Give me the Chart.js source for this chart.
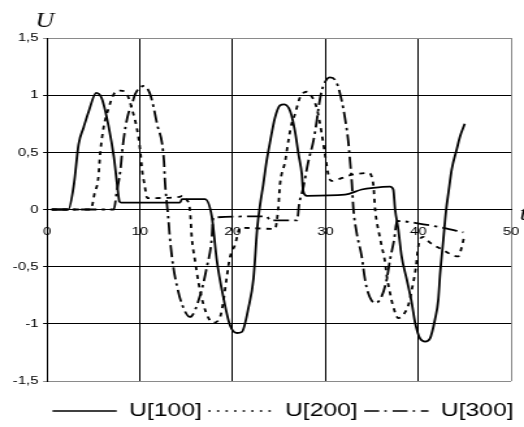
<!DOCTYPE html>
<html>
<head>
<meta charset="utf-8">
<script src="https://cdn.jsdelivr.net/npm/chart.js@4.4.1/dist/chart.umd.min.js"></script>
<style>
  html, body { margin: 0; padding: 0; background: #fff; overflow: hidden; }
  /* the plot is laid out on a 403px-wide canvas and widened to 524px */
  #frame { width: 403px; height: 431px; transform: scaleX(1.30025); transform-origin: 0 0; }
</style>
</head>
<body>
<div id="frame"><canvas id="chart"></canvas></div>
<script>
// U[100]
const t100 = [0.5, 2.3, 2.9, 3.4, 3.95, 4.5, 5.3, 5.9, 6.65, 7.2,
  7.55, 7.8, 8.0, 14.3, 14.55, 17.0, 17.75, 18.3, 18.95, 19.7,
  20.45, 21.0, 21.7, 22.25, 22.65, 22.95, 23.3, 23.65, 24.05, 24.55,
  25.1, 25.55, 26.2, 26.7, 27.1, 27.45, 27.6, 28.0, 32.1, 33.9,
  35.15, 36.95, 37.3, 37.5, 37.85, 38.2, 38.75, 39.3, 39.65, 40.2,
  40.75, 41.25, 41.8, 42.15, 42.35, 42.7, 43.0, 43.25, 43.6, 44.15,
  44.5, 45.0];
const u100 = [0, 0, 0.22, 0.57, 0.72, 0.86, 1.02, 0.97, 0.72, 0.46,
  0.22, 0.07, 0.06, 0.06, 0.09, 0.09, -0.06, -0.45, -0.75, -1.01,
  -1.08, -1.07, -0.86, -0.6, -0.16, 0.04, 0.22, 0.42, 0.6, 0.8,
  0.91, 0.92, 0.86, 0.69, 0.48, 0.31, 0.16, 0.12, 0.13, 0.175,
  0.19, 0.2, 0.175, 0, -0.18, -0.41, -0.61, -0.82, -0.99, -1.13,
  -1.155, -1.13, -0.96, -0.79, -0.56, -0.26, 0, 0.15, 0.35, 0.53,
  0.64, 0.75];

// U[200]
const t200 = [0.5, 4.7, 5.15, 5.5, 5.75, 6.1, 6.65, 7.2, 7.9, 8.6,
  9.15, 9.7, 10.05, 10.25, 10.5, 10.8, 14.3, 14.55, 15.0, 15.4,
  15.6, 15.95, 16.3, 16.85, 17.4, 17.9, 18.65, 19.0, 19.35, 19.7,
  20.25, 20.8, 24.55, 24.9, 25.1, 25.65, 26.0, 26.35, 26.7, 27.25,
  28.0, 28.5, 29.05, 29.6, 29.95, 30.3, 30.6, 32.65, 34.6, 35.15,
  35.35, 35.55, 35.8, 36.05, 36.4, 36.6, 36.95, 37.3, 37.85, 38.4,
  38.95, 39.3, 39.75, 39.95, 40.2, 40.55, 41.25, 42.35, 44.3, 44.7,
  44.95];
const u200 = [0, 0, 0.15, 0.26, 0.51, 0.72, 0.89, 1.01, 1.04, 1.01,
  0.88, 0.7, 0.51, 0.34, 0.22, 0.1, 0.11, 0.12, 0.09, -0.01,
  -0.25, -0.45, -0.63, -0.83, -0.95, -0.99, -0.94, -0.8, -0.6, -0.42,
  -0.31, -0.16, -0.17, 0, 0.22, 0.42, 0.6, 0.75, 0.83, 0.98,
  1.03, 0.99, 0.89, 0.66, 0.48, 0.31, 0.25, 0.3, 0.32, 0.22,
  0, -0.12, -0.22, -0.32, -0.45, -0.58, -0.73, -0.85, -0.95, -0.92,
  -0.83, -0.7, -0.5, -0.35, -0.26, -0.24, -0.29, -0.34, -0.41, -0.32,
  -0.23];

// U[300]
const t300 = [0.5, 7.2, 7.5, 7.9, 8.1, 8.45, 8.8, 9.15, 9.5, 10.4,
  11.1, 11.85, 12.6, 12.7, 12.95, 13.05, 13.25, 13.6, 14.0, 14.5,
  15.4, 16.5, 17.2, 17.75, 17.9, 23.65, 24.05, 26.95, 27.15, 27.6,
  28.15, 28.7, 29.05, 29.25, 29.6, 30.15, 30.5, 31.2, 31.75, 32.1,
  32.45, 32.65, 32.85, 33.0, 33.35, 33.9, 34.25, 34.6, 35.35, 36.05,
  36.6, 36.95, 37.4, 37.7, 40.55, 42.7, 44.85];
const u300 = [0, 0, 0.15, 0.34, 0.51, 0.72, 0.85, 0.92, 1.01, 1.08,
  1.01, 0.75, 0.42, 0.25, 0.02, -0.06, -0.26, -0.5, -0.67, -0.82,
  -0.94, -0.75, -0.51, -0.25, -0.07, -0.06, -0.095, -0.095, 0.04, 0.19,
  0.42, 0.6, 0.77, 0.89, 1.04, 1.14, 1.155, 1.11, 0.95, 0.8,
  0.6, 0.42, 0.22, 0.01, -0.2, -0.41, -0.61, -0.73, -0.82, -0.76,
  -0.61, -0.44, -0.26, -0.1, -0.13, -0.16, -0.2];

const seriesNames = ['U[100]', 'U[200]', 'U[300]'];
const xRange = [0, 50];
const xStep = 10;
const yRange = [-1.5, 1.5];
const yStep = 0.5;
const axisNames = ['t', 'U'];

const FONT = '"Liberation Sans", Arial, Helvetica, sans-serif';
const INK = '#000';
const FRAME = '#8a8a8a';

// curve dash patterns and the patterns used for the legend samples
const curveDash = [[], [4, 4.5], [12, 4, 2.5, 4]];
const legendDash = [[], [1.8, 4.8], [11.5, 4, 1.8, 4.5]];

const points = (ts, us) => ts.map((t, i) => ({ x: t, y: us[i] }));
const commaNumber = v => String(Math.round(v * 10) / 10).replace('.', ',');

// italic axis letters: U above the value axis, t at the right end of the time axis
const axisLetters = {
  id: 'axisLetters',
  afterDraw(chart) {
    const { ctx, chartArea, scales } = chart;
    const y0 = scales.y.getPixelForValue(0);
    ctx.save();
    ctx.fillStyle = INK;
    ctx.font = 'italic 20px "Liberation Serif", "Times New Roman", serif';
    ctx.textBaseline = 'alphabetic';
    ctx.textAlign = 'center';
    ctx.fillText(axisNames[1], chartArea.left - 1.8, 27);
    ctx.textAlign = 'left';
    ctx.fillText(axisNames[0], chartArea.right + 6.6, y0 + 10);
    ctx.restore();
  }
};

Chart.defaults.font.family = FONT;
Chart.defaults.color = INK;

const series = [[t100, u100], [t200, u200], [t300, u300]];

new Chart(document.getElementById('chart'), {
  type: 'line',
  data: {
    datasets: series.map(([ts, us], i) => ({
      label: seriesNames[i],
      data: points(ts, us),
      borderColor: INK,
      backgroundColor: INK,
      borderWidth: 1.8,
      borderDash: curveDash[i],
      pointRadius: 0,
      pointHoverRadius: 0,
      fill: false,
      cubicInterpolationMode: 'monotone'
    }))
  },
  options: {
    responsive: true,
    maintainAspectRatio: false,
    animation: false,
    events: [],
    layout: { padding: { left: 0, right: 3, top: 38, bottom: 0.5 } },
    scales: {
      x: {
        type: 'linear',
        position: { y: 0 },
        min: xRange[0],
        max: xRange[1],
        ticks: { stepSize: xStep, padding: 15, color: INK, font: { size: 11.5 }, maxRotation: 0 },
        grid: {
          color: c => (c.tick && c.tick.value === xRange[1]) ? FRAME : INK,
          lineWidth: 1,
          drawTicks: false
        },
        border: { color: INK, width: 1 },
        afterFit: s => { s.paddingRight = 9.9; }
      },
      y: {
        min: yRange[0],
        max: yRange[1],
        ticks: { stepSize: yStep, padding: 3.5, color: INK, font: { size: 11.5 }, callback: v => commaNumber(v) },
        grid: {
          color: c => (c.tick && (c.tick.value === yRange[0] || c.tick.value === yRange[1])) ? FRAME : INK,
          lineWidth: 1,
          tickLength: 3
        },
        border: { color: INK, width: 1 },
        afterFit: s => { s.width = 36.15; }
      }
    },
    plugins: {
      tooltip: { enabled: false },
      legend: {
        position: 'bottom',
        align: 'end',
        title: { display: true, text: ' ', font: { size: 15, lineHeight: 1 }, padding: 0.25 },
        labels: {
          usePointStyle: true,
          pointStyle: 'line',
          pointStyleWidth: 49.4,
          padding: 5,
          color: INK,
          font: { size: 19 },
          generateLabels(chart) {
            const items = Chart.defaults.plugins.legend.labels.generateLabels(chart);
            items.forEach((item, i) => { item.lineDash = legendDash[i]; item.lineWidth = 1.6; });
            return items;
          }
        }
      }
    }
  },
  plugins: [axisLetters]
});
</script>
</body>
</html>
